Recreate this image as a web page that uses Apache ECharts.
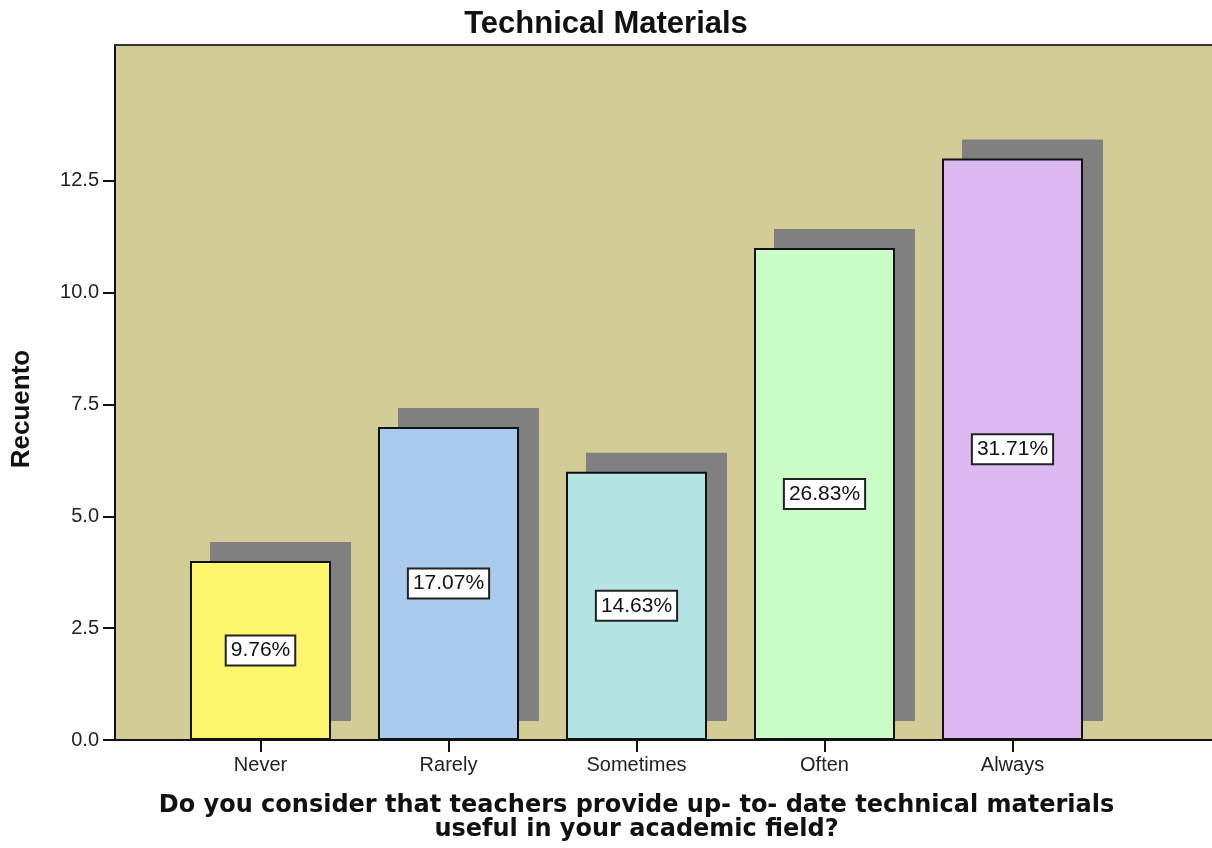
<!DOCTYPE html>
<html>
<head>
<meta charset="utf-8">
<script src="https://cdn.jsdelivr.net/npm/echarts@6/dist/echarts.min.js"></script>
<style>
  html, body { margin: 0; padding: 0; background: #fff; }
  #chart { width: 1212px; height: 848px; }
</style>
</head>
<body>
<div id="chart"></div>
<script>
const categories = ['Never', 'Rarely', 'Sometimes', 'Often', 'Always']
const counts = [4, 7, 6, 11, 13]
const barColors = ['#fbf66c', '#aacbec', '#b4e4e4', '#c9fcc6', '#dcbaf1']
const yTicks = [0, 2.5, 5, 7.5, 10, 12.5]

const total = counts.reduce((a, b) => a + b, 0)
const yMax = 15.54

const chart = echarts.init(document.getElementById('chart'))
chart.setOption({
  animation: false,
  backgroundColor: '#ffffff',
  title: {
    text: 'Technical Materials',
    left: 'center',
    top: 4,
    textStyle: {
      fontFamily: 'Liberation Sans',
      fontWeight: 'bold',
      fontSize: 31,
      color: '#111'
    }
  },
  graphic: [
    {
      type: 'text',
      x: 22,
      y: 409,
      rotation: Math.PI / 2,
      style: {
        text: 'Recuento',
        fontFamily: 'Liberation Sans',
        fontWeight: 'bold',
        fontSize: 26,
        fill: '#111',
        align: 'center',
        verticalAlign: 'middle'
      }
    }
  ],
  grid: [
    // plot frame / background
    {
      left: 115,
      right: 0,
      top: 45,
      bottom: 108,
      show: true,
      backgroundColor: '#d2cc96',
      borderWidth: 0
    },
    // bars
    {
      left: 166.5,
      width: 940,
      top: 45,
      bottom: 108
    },
    // drop shadows, same scale shifted right and up
    {
      left: 186.5,
      width: 940,
      top: 26,
      bottom: 127
    }
  ],
  xAxis: [
    {
      gridIndex: 0,
      type: 'value',
      min: 0,
      max: 1,
      axisLine: { show: true, lineStyle: { color: '#111', width: 2 } },
      axisTick: { show: false },
      axisLabel: { show: false },
      splitLine: { show: false }
    },
    {
      gridIndex: 0,
      type: 'value',
      position: 'top',
      min: 0,
      max: 1,
      axisLine: { show: true, lineStyle: { color: '#333', width: 2 } },
      axisTick: { show: false },
      axisLabel: { show: false },
      splitLine: { show: false }
    },
    {
      gridIndex: 1,
      type: 'category',
      data: categories,
      axisLine: { show: false },
      axisTick: {
        show: true,
        alignWithLabel: true,
        length: 12,
        lineStyle: { color: '#111', width: 2 }
      },
      axisLabel: {
        margin: 15,
        fontFamily: 'Liberation Sans',
        fontSize: 20,
        color: '#222'
      },
      name: 'Do you consider that teachers provide up- to- date technical materials\nuseful in your academic field?',
      nameLocation: 'middle',
      nameGap: 54,
      nameTextStyle: {
        fontFamily: 'DejaVu Sans',
        fontWeight: 'bold',
        fontSize: 24,
        lineHeight: 24,
        color: '#111'
      }
    },
    {
      gridIndex: 2,
      type: 'category',
      data: categories,
      show: false
    }
  ],
  yAxis: [
    {
      gridIndex: 0,
      type: 'value',
      min: 0,
      max: yMax,
      axisLine: { show: true, lineStyle: { color: '#111', width: 2 } },
      axisTick: {
        show: true,
        length: 12,
        customValues: yTicks,
        lineStyle: { color: '#111', width: 2 }
      },
      axisLabel: {
        margin: 16,
        customValues: yTicks,
        fontFamily: 'Liberation Sans',
        fontSize: 20,
        color: '#222',
        formatter: v => v.toFixed(1)
      },
      splitLine: { show: false }
    },
    {
      gridIndex: 1,
      type: 'value',
      min: 0,
      max: yMax,
      show: false
    },
    {
      gridIndex: 2,
      type: 'value',
      min: 0,
      max: yMax,
      show: false
    }
  ],
  series: [
    {
      type: 'bar',
      xAxisIndex: 3,
      yAxisIndex: 2,
      barWidth: 141,
      z: 1,
      silent: true,
      data: counts,
      itemStyle: { color: '#808080' }
    },
    {
      type: 'bar',
      xAxisIndex: 2,
      yAxisIndex: 1,
      barWidth: 141,
      z: 2,
      data: counts.map((v, i) => ({
        value: v,
        itemStyle: { color: barColors[i] }
      })),
      itemStyle: {
        borderColor: '#111',
        borderWidth: 2
      },
      label: {
        show: true,
        position: 'inside',
        formatter: p => (p.value / total * 100).toFixed(2) + '%',
        fontFamily: 'Liberation Sans',
        fontSize: 21,
        color: '#111',
        backgroundColor: '#ffffff',
        borderColor: '#222',
        borderWidth: 2,
        padding: [4, 4, 3, 4]
      }
    }
  ]
})
</script>
</body>
</html>
